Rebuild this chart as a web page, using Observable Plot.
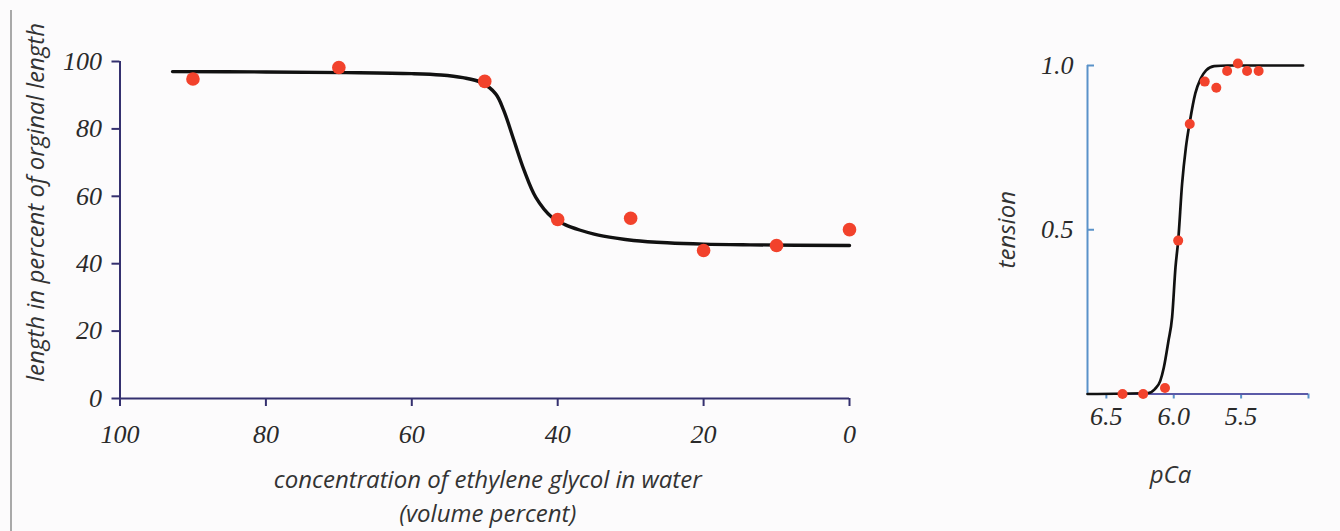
<!DOCTYPE html>
<html><head><meta charset="utf-8">
<script src="https://cdn.jsdelivr.net/npm/d3@7"></script>
<script src="https://cdn.jsdelivr.net/npm/@observablehq/plot@0.6"></script>
<style>
html,body{margin:0;padding:0;background:#fcfbfc;}
#wrap{position:relative;width:1340px;height:531px;overflow:hidden;background:#fcfbfc;}
#edge{position:absolute;left:10px;top:10px;width:2px;height:521px;background:#a9a9a9;}
#left{position:absolute;left:0;top:0;}
#right{position:absolute;left:960px;top:0;}
</style></head><body>
<div id="wrap"><div id="edge"></div><div id="left"></div><div id="right"></div></div>
<script>
// ---- left panel data: length vs ethylene glycol concentration ----
const glycolPct = [90, 70, 50, 40, 30, 20, 10, 0];
const lengthPct = [94.8, 98.2, 94.1, 53.1, 53.5, 43.9, 45.4, 50.1];
// fitted curve
const glycolFitX = [92.8, 80, 69, 60, 56, 53, 50.5, 48.5, 47.4, 46, 44.6, 43, 40.8, 39, 37, 35, 32, 29.6, 25, 20, 13.6, 0];
const glycolFitY = [97.0, 96.9, 96.7, 96.4, 96.0, 95.2, 93.8, 90.4, 85.5, 76.6, 67.7, 59.7, 53.8, 51.6, 50.0, 48.8, 47.6, 46.9, 46.2, 45.8, 45.6, 45.4];
const leftXTicks = [100, 80, 60, 40, 20, 0];
const leftXTickLabels = ["100", "80", "60", "40", "20", "0"];
const leftYTicks = [0, 20, 40, 60, 80, 100];
const leftYTickLabels = ["0", "20", "40", "60", "80", "100"];
const leftXTitle = "concentration of ethylene glycol in water\n(volume percent)";
const leftYTitle = "length in percent of orginal length";

// ---- right panel data: tension vs pCa ----
const pCaPts = [6.38, 6.227, 6.065, 5.967, 5.881, 5.77, 5.684, 5.604, 5.524, 5.456, 5.37];
const tensionPts = [0, 0, 0.018, 0.467, 0.822, 0.951, 0.932, 0.983, 1.006, 0.983, 0.983];
const pCaFit = [6.64, 6.19, 6.14, 6.10, 6.074, 6.04, 6.012, 5.987, 5.967, 5.938, 5.91, 5.88, 5.84, 5.80, 5.76, 5.70, 5.6, 5.04];
const tensionFit = [0, 0.003, 0.015, 0.04, 0.08, 0.16, 0.234, 0.386, 0.467, 0.64, 0.75, 0.83, 0.915, 0.96, 0.985, 0.998, 1.0, 1.0];
const rightXTicks = [6.5, 6.0, 5.5, 5.0];
const rightXTickLabels = ["6.5", "6.0", "5.5", ""];
const rightYTicks = [0.5, 1.0];
const rightYTickLabels = ["0.5", "1.0"];
const rightXTitle = "pCa";
const rightYTitle = "tension";

const tickFont = "'Liberation Serif', 'Times New Roman', serif";
const titleFont = "'Open Sans', Lato, sans-serif";
const dotColor = "#f2422c";
const textColor = "#2a2a2a";
const titleColor = "#333";

const leftPts = glycolPct.map((x, i) => ({x, y: lengthPct[i]}));
const leftFit = glycolFitX.map((x, i) => ({x, y: glycolFitY[i]}));
const rightPts = pCaPts.map((x, i) => ({x, y: tensionPts[i]}));
const rightFit = pCaFit.map((x, i) => ({x, y: tensionFit[i]}));

const leftAxis = "#34306f";
const left = Plot.plot({
  width: 900, height: 531,
  marginLeft: 119.5, marginRight: 51, marginTop: 61, marginBottom: 133,
  style: {background: "transparent", overflow: "visible"},
  x: {domain: [100, 0]},
  y: {domain: [0, 100]},
  marks: [
    Plot.axisX({ticks: leftXTicks, tickFormat: d => leftXTickLabels[leftXTicks.indexOf(d)],
      tickSize: 8, tickPadding: 18, stroke: leftAxis, strokeWidth: 2, color: textColor,
      fontSize: 26, fontFamily: tickFont, fontStyle: "italic", label: null}),
    Plot.axisY({ticks: leftYTicks, tickFormat: d => leftYTickLabels[leftYTicks.indexOf(d)],
      tickSize: 8, tickPadding: 10, stroke: leftAxis, strokeWidth: 2, color: textColor,
      fontSize: 26, fontFamily: tickFont, fontStyle: "italic", label: null}),
    Plot.ruleY([0], {stroke: leftAxis, strokeWidth: 2}),
    Plot.ruleX([100], {stroke: leftAxis, strokeWidth: 2}),
    Plot.line(leftFit, {x: "x", y: "y", stroke: "#111", strokeWidth: 3.4, curve: "catmull-rom"}),
    Plot.dot(leftPts, {x: "x", y: "y", r: 6.8, fill: dotColor}),
    Plot.text([leftXTitle], {frameAnchor: "bottom", textAnchor: "middle", lineAnchor: "middle",
      dx: 3, dy: 96, lineHeight: 1.42,
      fontSize: 24, fontFamily: titleFont, fontStyle: "italic", fill: titleColor}),
    Plot.text([leftYTitle], {frameAnchor: "left", textAnchor: "middle", lineAnchor: "middle",
      rotate: -90, dx: -83.5, dy: -27.5,
      fontSize: 24, fontFamily: titleFont, fontStyle: "italic", fill: titleColor})
  ]
});
document.getElementById("left").appendChild(left);

const rYAxis = "#5a92c9";
const rXAxis = "#5b5aa8";
const frameW = 380 - 127 - 32;
const right = Plot.plot({
  width: 380, height: 531,
  marginLeft: 127, marginRight: 32, marginTop: 65, marginBottom: 137.5,
  style: {background: "transparent", overflow: "visible"},
  x: {domain: [6.64, 5.0]},
  y: {domain: [0, 1.0]},
  marks: [
    Plot.axisX({ticks: rightXTicks, tickFormat: d => rightXTickLabels[rightXTicks.indexOf(d)],
      tickSize: 5, tickPadding: 8, stroke: rYAxis, strokeWidth: 2, color: textColor,
      fontSize: 26, fontFamily: tickFont, fontStyle: "italic", label: null}),
    Plot.axisY({ticks: rightYTicks, tickFormat: d => rightYTickLabels[rightYTicks.indexOf(d)],
      tickSize: 0, tickPadding: 14, color: textColor,
      fontSize: 26, fontFamily: tickFont, fontStyle: "italic", label: null}),
    Plot.tickY(rightYTicks, {y: d => d, stroke: rYAxis, strokeWidth: 2, insetRight: frameW - 7}),
    Plot.ruleX([6.64], {stroke: rYAxis, strokeWidth: 2}),
    Plot.ruleY([0], {stroke: rXAxis, strokeWidth: 2}),
    Plot.line(rightFit, {x: "x", y: "y", stroke: "#111", strokeWidth: 2.7, curve: "monotone-x"}),
    Plot.dot(rightPts, {x: "x", y: "y", r: 5, fill: dotColor}),
    Plot.text([rightXTitle], {frameAnchor: "bottom", textAnchor: "middle", lineAnchor: "middle",
      dx: -27.5, dy: 81.5,
      fontSize: 24, fontFamily: titleFont, fontStyle: "italic", fill: titleColor}),
    Plot.text([rightYTitle], {frameAnchor: "left", textAnchor: "middle", lineAnchor: "middle",
      rotate: -90, dx: -80, dy: 0,
      fontSize: 24, fontFamily: titleFont, fontStyle: "italic", fill: titleColor})
  ]
});
document.getElementById("right").appendChild(right);
</script>
</body></html>
